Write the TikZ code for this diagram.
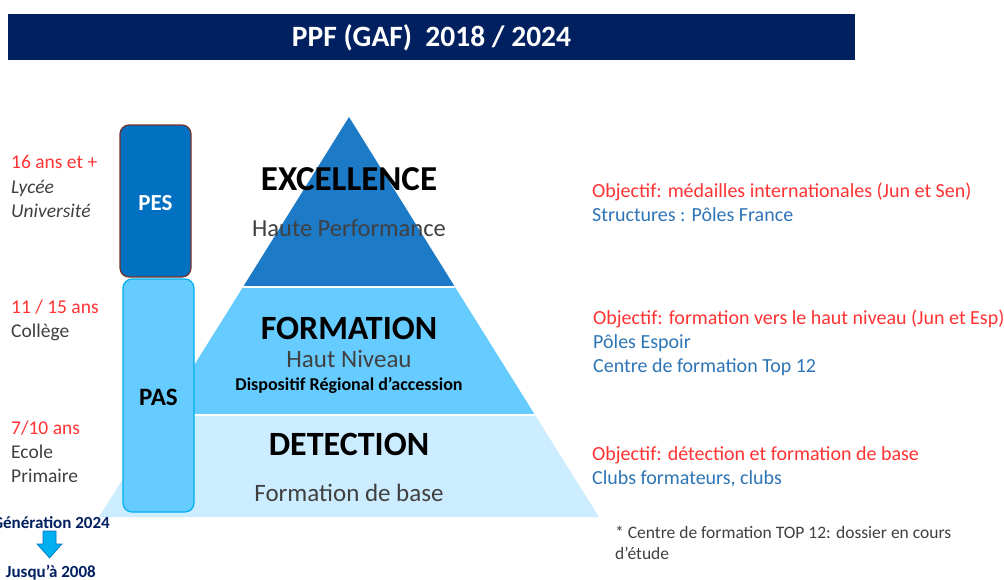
\documentclass[tikz,border=0pt]{standalone}
\usepackage{fontspec}
\setmainfont{Carlito}
\definecolor{navy}{RGB}{0,32,96}
\definecolor{pesfill}{RGB}{0,112,192}
\definecolor{pesborder}{RGB}{120,50,40}
\definecolor{toptier}{RGB}{29,122,199}
\definecolor{midtier}{RGB}{102,204,255}
\definecolor{bottier}{RGB}{204,236,255}
\definecolor{pasborder}{RGB}{0,176,240}
\definecolor{redtxt}{RGB}{255,51,51}
\definecolor{bluetxt}{RGB}{46,117,182}
\definecolor{graytxt}{RGB}{64,64,64}
\definecolor{arrowfill}{RGB}{0,176,240}
\definecolor{arrowline}{RGB}{0,112,192}
\tikzset{
  fs/.style={font=\fontsize{#1}{#1}\selectfont},
  lefttxt/.style={anchor=base west, inner sep=0pt, fs=19.5},
  leftit/.style={anchor=base west, inner sep=0pt, text=graytxt, font=\itshape\fontsize{19.5}{19.5}\selectfont},
  righttxt/.style={anchor=base west, inner sep=0pt, fs=20},
  ptitle/.style={inner sep=0pt, font=\bfseries\fontsize{#1}{#1}\selectfont},
  psub/.style={inner sep=0pt, anchor=base, text=graytxt, font=\fontsize{#1}{#1}\selectfont},
  vbox/.style={rounded corners=9pt, line width=1.2pt},
  gentxt/.style={anchor=base east, inner sep=0pt, text=navy, font=\bfseries\fontsize{17}{17}\selectfont},
}
\begin{document}
\begin{tikzpicture}[x=1pt,y=-1pt]
\useasboundingbox (0,0) rectangle (1004,579);
\fill[white] (0,0) rectangle (1004,579);
% title bar
\fill[navy] (8,14) rectangle (855,60);
\node[text=white, font=\bfseries\fontsize{29.5}{29.5}\selectfont] (title) at (431.5,37.5) {PPF (GAF)\ \ 2018 / 2024};
% pyramid tiers
\fill[bottier] (99,517) -- (599,517) -- (535,415) -- (163,415) -- cycle;
\fill[midtier] (163,415) -- (535,415) -- (455,287) -- (243,287) -- cycle;
\fill[toptier] (243,287) -- (455,287) -- (349,117) -- cycle;
\draw[white, line width=1.2pt] (163,415) -- (535,415);
\draw[white, line width=1.2pt] (243,287) -- (455,287);
% boxes
\draw[vbox, fill=midtier, draw=pasborder] (123,279) rectangle (194,512);
\draw[vbox, fill=pesfill, draw=pesborder] (120,125) rectangle (191,277);
\node[text=white, font=\bfseries\fontsize{23}{23}\selectfont] (pes) at (155.5,203) {PES};
\node[text=black, font=\bfseries\fontsize{25}{25}\selectfont] (pas) at (158.5,397) {PAS};
% pyramid text
\node[ptitle=35] (exc) at (349,179) {EXCELLENCE};
\node[psub=24.5] (hp) at (349,236.5) {Haute Performance};
\node[ptitle=34] (form) at (349,328) {FORMATION};
\node[psub=25] (hn) at (349,367) {Haut Niveau};
\node[inner sep=0pt, anchor=base, font=\bfseries\fontsize{18}{18}\selectfont] (dra) at (349,390) {Dispositif Régional d’accession};
\node[ptitle=34] (det) at (349,444) {DETECTION};
\node[psub=25] (fb) at (349,501) {Formation de base};
% left texts
\node[lefttxt, text=redtxt] (a16) at (11,168) {16 ans et +};
\node[leftit] (lyc) at (11,193) {Lycée};
\node[leftit] (univ) at (11,217) {Université};
\node[lefttxt, text=redtxt] (a11) at (11,313) {11 / 15 ans};
\node[lefttxt, text=graytxt] (col) at (11,337) {Collège};
\node[lefttxt, text=redtxt] (a7) at (11,434) {7/10 ans};
\node[lefttxt, text=graytxt] (eco) at (11,458) {Ecole};
\node[lefttxt, text=graytxt] (prim) at (11,482) {Primaire};
\node[gentxt] (gen) at (110,528) {Génération 2024};
\node[gentxt] (jus) at (96,577) {Jusqu’à 2008};
% down arrow
\coordinate (tip) at (49.5,558);
\filldraw[fill=arrowfill, draw=arrowline, line width=0.6pt]
  (43,531) -- (56,531) -- (56,544) -- (62,544) -- (tip) -- (37,544) -- (43,544) -- cycle;
% right texts
\node[righttxt, text=redtxt] (o1) at (592,197) {Objectif: médailles internationales (Jun et Sen)};
\node[righttxt, text=bluetxt] (s1) at (592,221.5) {Structures : Pôles France};
\node[righttxt, text=redtxt] (o2) at (593,324.5) {Objectif: formation vers le haut niveau (Jun et Esp)};
\node[righttxt, text=bluetxt] (s2) at (593,348.5) {Pôles Espoir};
\node[righttxt, text=bluetxt] (s3) at (593,372.5) {Centre de formation Top 12};
\node[righttxt, text=redtxt] (o3) at (592,460.5) {Objectif: détection et formation de base};
\node[righttxt, text=bluetxt] (s4) at (592,484.5) {Clubs formateurs, clubs};
\node[anchor=base west, inner sep=0pt, text=graytxt, fs=17.5] (n1) at (615,538) {* Centre de formation TOP 12: dossier en cours};
\node[anchor=base west, inner sep=0pt, text=graytxt, fs=17.5] (n2) at (615,559) {d’étude};
\end{tikzpicture}
\end{document}
